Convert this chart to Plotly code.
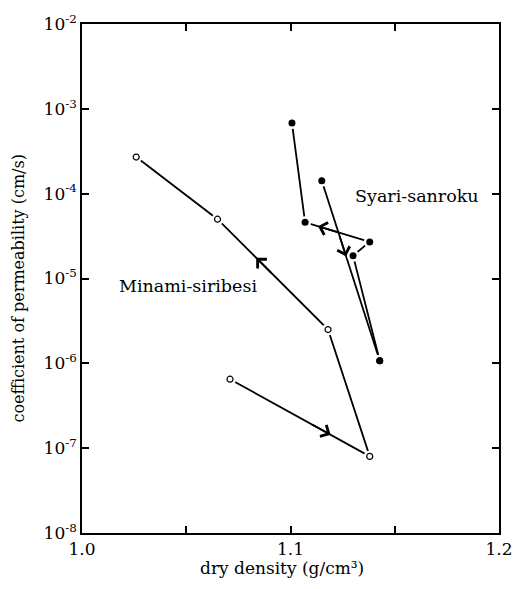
import plotly.graph_objects as go
import math

# ---- data ----
minami_density = [1.026, 1.065, 1.118, 1.138, 1.071]
minami_k = [2.7e-4, 5.0e-5, 2.5e-6, 8.0e-8, 6.5e-7]

syari_density = [1.1007, 1.107, 1.138, 1.130, 1.1428]
syari_k = [6.8e-4, 4.6e-5, 2.7e-5, 1.86e-5, 1.07e-6]

syari2_density = [1.115, 1.1428]
syari2_k = [1.42e-4, 1.07e-6]

x_tickvals = [1.0, 1.05, 1.1, 1.15, 1.2]
x_ticktext = ["1.0", " ", "1.1", " ", "1.2"]
y_tickvals = [1e-8, 1e-7, 1e-6, 1e-5, 1e-4, 1e-3, 1e-2]
y_ticktext = ["10<sup>-8</sup>", "10<sup>-7</sup>", "10<sup>-6</sup>", "10<sup>-5</sup>",
              "10<sup>-4</sup>", "10<sup>-3</sup>", "10<sup>-2</sup>"]

# arrows: (density list, k list, from index, to index, tip fraction, tail fraction)
arrows = [
    (minami_density, minami_k, 2, 1, 0.65, 0.50),
    (minami_density, minami_k, 4, 3, 0.72, 0.58),
    (syari_density, syari_k, 2, 1, 0.80, 0.45),
    (syari2_density, syari2_k, 0, 1, 0.42, 0.30),
]

FONT = "DejaVu Serif"
LW = 1.8

fig = go.Figure()

# lines
fig.add_trace(go.Scatter(x=minami_density, y=minami_k, mode="lines",
                         line=dict(color="black", width=LW), showlegend=False))
fig.add_trace(go.Scatter(x=syari_density, y=syari_k, mode="lines",
                         line=dict(color="black", width=LW), showlegend=False))
fig.add_trace(go.Scatter(x=syari2_density, y=syari2_k, mode="lines",
                         line=dict(color="black", width=LW), showlegend=False))

# white halos for gaps around markers
all_x = minami_density + syari_density + syari2_density
all_y = minami_k + syari_k + syari2_k
fig.add_trace(go.Scatter(x=all_x, y=all_y, mode="markers",
                         marker=dict(color="white", size=12, line=dict(width=0)),
                         showlegend=False))

# markers
fig.add_trace(go.Scatter(x=minami_density, y=minami_k, mode="markers",
                         marker=dict(symbol="circle-open", color="black", size=6,
                                     line=dict(width=1.2)), showlegend=False))
fig.add_trace(go.Scatter(x=syari_density + syari2_density, y=syari_k + syari2_k,
                         mode="markers",
                         marker=dict(symbol="circle", color="black", size=7),
                         showlegend=False))

# arrow heads
for xs, ks, i0, i1, f, g in arrows:
    x0, y0 = xs[i0], math.log10(ks[i0])
    x1, y1 = xs[i1], math.log10(ks[i1])
    tx, ty = x0 + f * (x1 - x0), y0 + f * (y1 - y0)
    sx, sy = x0 + g * (x1 - x0), y0 + g * (y1 - y0)
    fig.add_annotation(x=tx, y=ty, ax=sx, ay=sy, xref="x", yref="y",
                       axref="x", ayref="y", text="", showarrow=True,
                       arrowhead=4, arrowsize=1.4, arrowwidth=1.8,
                       arrowcolor="black", standoff=0, startstandoff=0)

# labels
fig.add_annotation(x=1.051, y=-5.09, xref="x", yref="y", text="Minami-siribesi",
                   showarrow=False, font=dict(family=FONT, size=17.5, color="black"))
fig.add_annotation(x=1.1607, y=-4.03, xref="x", yref="y", text="Syari-sanroku",
                   showarrow=False, font=dict(family=FONT, size=17.5, color="black"))

# axis titles
fig.add_annotation(x=-0.179, y=0.48, xref="paper", yref="paper",
                   text="coefficient of permeability (cm/s)", textangle=-90,
                   showarrow=False, font=dict(family=FONT, size=16, color="black"))
fig.add_annotation(x=0.48, y=-0.092, xref="paper", yref="paper",
                   text="dry density (g/cm³)", showarrow=False,
                   font=dict(family=FONT, size=17, color="black"))

axis_common = dict(showline=True, linecolor="black", linewidth=1.5, mirror="ticks",
                   ticks="inside", ticklen=7, tickwidth=1.5, tickcolor="black",
                   showgrid=False, zeroline=False,
                   tickfont=dict(family=FONT, size=17, color="black"))

fig.update_xaxes(range=[1.0, 1.2], tickmode="array", tickvals=x_tickvals,
                 ticktext=x_ticktext, **axis_common)
fig.update_yaxes(type="log", range=[-8, -2], tickmode="array", tickvals=y_tickvals,
                 ticktext=y_ticktext, **axis_common)

fig.update_layout(width=525, height=589, margin=dict(l=82, r=16, t=22, b=56),
                  plot_bgcolor="white", paper_bgcolor="white",
                  font=dict(family=FONT, size=17, color="black"))

fig.write_html("out.html")
